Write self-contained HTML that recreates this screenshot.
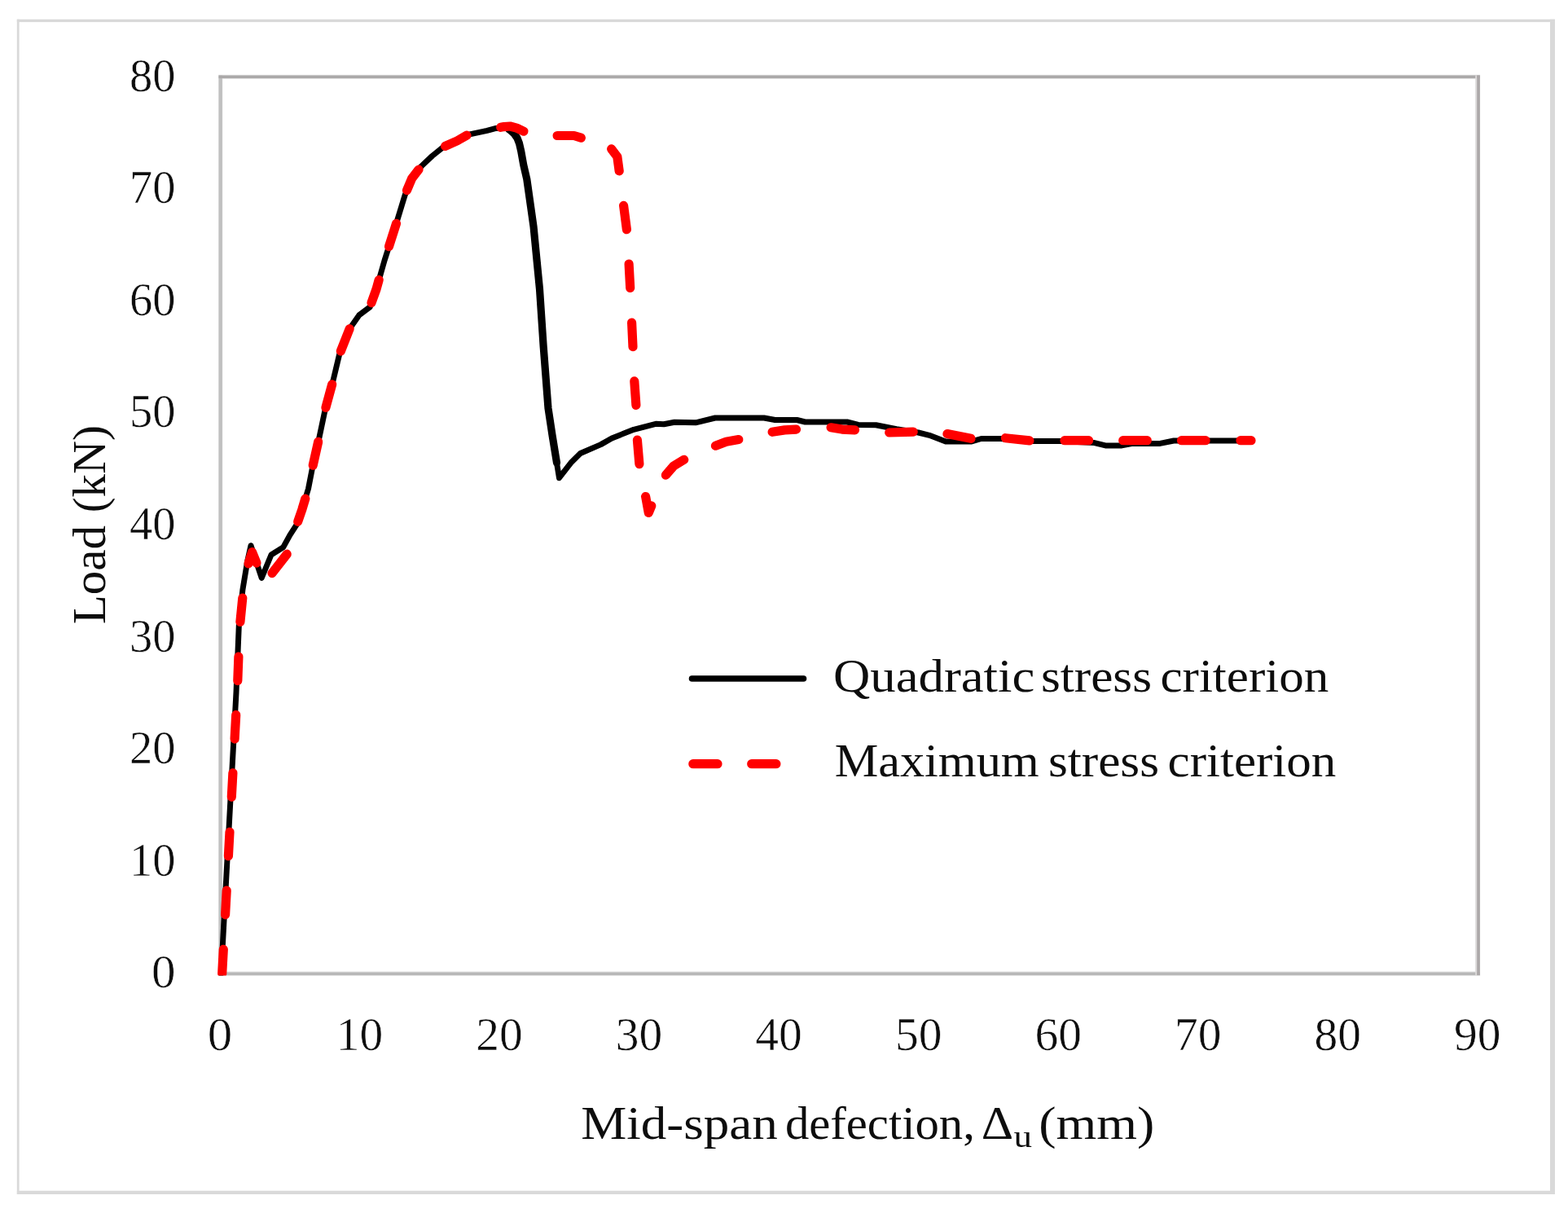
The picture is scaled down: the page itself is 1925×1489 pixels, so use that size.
<!DOCTYPE html>
<html lang="en">
<head>
<meta charset="utf-8">
<title>Load vs mid-span deflection</title>
<style>
html,body{margin:0;padding:0;background:#fff;}
body{width:1925px;height:1489px;overflow:hidden;}
svg{display:block;}
text{font-family:"Liberation Serif","DejaVu Serif",serif;fill:#111;}
</style>
</head>
<body>
<svg width="1925" height="1489" viewBox="0 0 1925 1489">
<defs>
<clipPath id="plot"><rect x="260" y="90" width="1560" height="1107.4"/></clipPath>
<filter id="soft" x="0" y="0" width="1925" height="1489" filterUnits="userSpaceOnUse"><feGaussianBlur stdDeviation="0.75"/></filter>
</defs>
<rect x="0" y="0" width="1925" height="1489" fill="#ffffff"/>
<g filter="url(#soft)">
<!-- outer chart frame -->
<g fill="#d9d9d9">
<rect x="20.8" y="23.7" width="1888.2" height="3.4"/>
<rect x="20.8" y="23.7" width="2.8" height="1442.3"/>
<rect x="1903" y="23.7" width="6" height="1442.3"/>
<rect x="20.8" y="1461.7" width="1888.2" height="4.3"/>
</g>
<!-- plot area frame -->
<g>
<rect x="268.2" y="91.7" width="1549" height="1106.4" fill="#e6e6e6"/>
<rect x="273.3" y="97" width="1538" height="1095.4" fill="#ffffff"/>
<rect x="268.5" y="92.6" width="4.4" height="1104.6" fill="#c0c0c0"/>
<rect x="268.5" y="1193.5" width="1548.3" height="3.6" fill="#b8b8b8"/>
<rect x="268.5" y="92.5" width="1548.3" height="3.6" fill="#aba9a9"/>
<rect x="1811.3" y="92.5" width="2" height="1104.6" fill="#dddbdb"/>
<rect x="1813.2" y="92.5" width="3.7" height="1104.6" fill="#aca8a9"/>
</g>
<!-- series 1: quadratic stress criterion -->
<polyline points="271.5,1195.0 290.0,850.0 293.3,768.0 297.9,724.0 303.7,689.0 308.0,669.7 321.2,709.5 333.0,681.0 347.8,671.7 355.9,656.8 364.6,643.4 370.9,625.2 378.5,600.0 383.7,573.3 392.1,536.4 398.8,504.5 408.9,467.5 416.5,435.6 429.1,403.7 440.8,386.9 454.2,376.9 462.0,355.0 472.0,319.9 485.4,277.9 497.2,239.3 505.6,219.1 517.3,204.0 530.7,191.4 544.2,180.5 561.0,173.0 574.4,165.4 597.9,160.4 609.0,157.4 621.5,156.5 627.0,160.3 631.5,164.5 635.0,169.5 637.5,176.0 639.7,185.5 642.7,202.3 646.8,220.0 655.0,277.9 662.5,355.0 667.2,425.6 673.0,501.1 678.1,534.7 686.5,586.7 700.7,568.3 712.5,556.5 737.7,545.6 751.1,538.0 778.0,527.3 805.0,520.3 815.0,520.8 828.0,518.2 854.0,518.8 878.0,513.0 938.0,513.0 951.5,515.5 978.4,515.5 988.5,518.0 1040.0,518.0 1053.6,521.5 1075.4,521.7 1100.6,526.8 1127.5,531.0 1140.9,534.3 1161.0,541.9 1192.9,541.9 1204.7,538.5 1228.2,538.5 1268.5,541.5 1302.0,541.5 1343.7,543.6 1357.1,546.9 1377.2,546.9 1390.7,544.4 1424.2,544.4 1441.0,541.0 1536.0,541.0" fill="none" stroke="#000000" stroke-width="7.0" stroke-linejoin="round" stroke-linecap="round" clip-path="url(#plot)"/>
<polyline points="625.0,159.0 627.0,160.3 631.5,164.5 635.0,169.5 637.5,176.0 639.7,185.5 642.7,202.3 646.8,220.0 655.0,277.9 662.5,355.0 667.2,425.6 673.0,501.1 678.1,534.7 683.5,568.0" fill="none" stroke="#000000" stroke-width="9.2" stroke-linejoin="round" stroke-linecap="round"/>
<!-- series 2: maximum stress criterion (dashed) -->
<g fill="none" stroke="#ff0000" stroke-width="11.2" stroke-linejoin="round" stroke-linecap="round" clip-path="url(#plot)">
<polyline points="272.7,1195.0 274.3,1165.4"/>
<polyline points="276.6,1122.8 278.2,1093.2"/>
<polyline points="280.4,1050.9 282.0,1021.3"/>
<polyline points="284.3,978.3 285.9,948.8"/>
<polyline points="288.1,907.1 289.7,877.6"/>
<polyline points="291.8,835.6 292.9,806.1"/>
<polyline points="294.9,763.4 297.8,734.0"/>
<polyline points="305.0,691.9 309.5,677.6 315.0,691.1"/>
<polyline points="334.0,703.6 352.2,680.2"/>
<polyline points="365.7,640.3 370.9,625.2 374.8,612.2"/>
<polyline points="384.2,571.2 390.7,542.3"/>
<polyline points="399.9,500.4 407.7,471.8"/>
<polyline points="418.3,431.1 429.1,403.7 429.2,403.6"/>
<polyline points="456.0,371.7 462.0,355.0 465.2,343.6"/>
<polyline points="477.5,302.6 485.4,277.9 486.5,274.4"/>
<polyline points="499.5,233.7 505.6,219.1 514.0,208.2"/>
<polyline points="546.6,179.4 561.0,173.0 573.0,166.2"/>
<polyline points="614.7,156.3 618.7,155.6 626.2,155.0 634.3,157.1 643.0,161.2"/>
<polyline points="684.1,166.5 704.7,166.5 713.3,169.2"/>
<polyline points="750.6,182.9 757.8,192.3 760.2,209.9"/>
<polyline points="765.6,252.4 769.4,281.7"/>
<polyline points="772.1,324.0 773.7,353.5"/>
<polyline points="775.6,396.1 777.0,425.7"/>
<polyline points="778.8,467.9 780.9,497.4"/>
<polyline points="782.4,540.1 784.9,569.6"/>
<polyline points="792.6,609.5 792.9,611.0 796.3,629.5 799.8,620.9"/>
<polyline points="817.4,583.2 827.0,572.0 839.7,564.3"/>
<polyline points="878.4,547.2 891.5,542.2 906.8,539.5"/>
<polyline points="948.1,530.3 963.3,527.9 977.5,527.1"/>
<polyline points="1020.1,524.8 1033.8,527.1 1049.5,527.8"/>
<polyline points="1091.7,531.0 1121.2,530.1"/>
<polyline points="1162.9,532.6 1192.0,538.3"/>
<polyline points="1234.4,537.7 1263.9,540.9"/>
<polyline points="1307.0,540.7 1336.6,540.7"/>
<polyline points="1378.7,540.7 1408.3,540.7"/>
<polyline points="1450.5,540.7 1480.1,540.7"/>
<polyline points="1523.0,540.7 1536.0,540.7"/>
</g>
<!-- legend -->
<line x1="849.5" y1="833" x2="986.5" y2="833" stroke="#000000" stroke-width="7.6" stroke-linecap="round"/>
<line x1="850.8" y1="937.7" x2="960" y2="937.7" stroke="#ff0000" stroke-width="11.2" stroke-linecap="round" stroke-dasharray="30.2 41.7"/>
<g font-size="58" text-anchor="end" stroke="#ffffff" stroke-width="0.55">
<text x="215.6" y="1212.4" textLength="29.5" lengthAdjust="spacingAndGlyphs">0</text>
<text x="215.6" y="1074.8" textLength="56.5" lengthAdjust="spacingAndGlyphs">10</text>
<text x="215.6" y="937.2" textLength="56.5" lengthAdjust="spacingAndGlyphs">20</text>
<text x="215.6" y="799.6" textLength="56.5" lengthAdjust="spacingAndGlyphs">30</text>
<text x="215.6" y="662.0" textLength="56.5" lengthAdjust="spacingAndGlyphs">40</text>
<text x="215.6" y="524.3" textLength="56.5" lengthAdjust="spacingAndGlyphs">50</text>
<text x="215.6" y="386.7" textLength="56.5" lengthAdjust="spacingAndGlyphs">60</text>
<text x="215.6" y="249.1" textLength="56.5" lengthAdjust="spacingAndGlyphs">70</text>
<text x="215.6" y="111.5" textLength="56.5" lengthAdjust="spacingAndGlyphs">80</text>
</g>
<g font-size="58" text-anchor="middle" stroke="#ffffff" stroke-width="0.55">
<text x="270.1" y="1289.2" textLength="30.5" lengthAdjust="spacingAndGlyphs">0</text>
<text x="441.6" y="1289.2" textLength="57.5" lengthAdjust="spacingAndGlyphs">10</text>
<text x="613.1" y="1289.2" textLength="57.5" lengthAdjust="spacingAndGlyphs">20</text>
<text x="784.6" y="1289.2" textLength="57.5" lengthAdjust="spacingAndGlyphs">30</text>
<text x="956.1" y="1289.2" textLength="57.5" lengthAdjust="spacingAndGlyphs">40</text>
<text x="1127.7" y="1289.2" textLength="57.5" lengthAdjust="spacingAndGlyphs">50</text>
<text x="1299.2" y="1289.2" textLength="57.5" lengthAdjust="spacingAndGlyphs">60</text>
<text x="1470.7" y="1289.2" textLength="57.5" lengthAdjust="spacingAndGlyphs">70</text>
<text x="1642.2" y="1289.2" textLength="57.5" lengthAdjust="spacingAndGlyphs">80</text>
<text x="1813.7" y="1289.2" textLength="57.5" lengthAdjust="spacingAndGlyphs">90</text>
</g>
<!-- axis titles -->
<text font-size="56" y="1398.3"><tspan x="713.2" textLength="241.7" lengthAdjust="spacingAndGlyphs">Mid-span</tspan> <tspan x="963.9" textLength="233" lengthAdjust="spacingAndGlyphs">defection,</tspan> <tspan x="1204.8" textLength="39.4" lengthAdjust="spacingAndGlyphs">Δ</tspan><tspan x="1244.5" dy="9.5" font-size="38" textLength="22.5" lengthAdjust="spacingAndGlyphs">u</tspan> <tspan x="1275.3" dy="-9.5" textLength="142.1" lengthAdjust="spacingAndGlyphs">(mm)</tspan></text>
<text font-size="56" transform="translate(128.7 766.3) rotate(-90)"><tspan x="0" y="0" textLength="121.3" lengthAdjust="spacingAndGlyphs">Load</tspan> <tspan x="137" textLength="107.3" lengthAdjust="spacingAndGlyphs">(kN)</tspan></text>
<!-- legend labels -->
<text font-size="56" y="849"><tspan x="1023.1" textLength="247.2" lengthAdjust="spacingAndGlyphs">Quadratic</tspan> <tspan x="1277.9" textLength="136.1" lengthAdjust="spacingAndGlyphs">stress</tspan> <tspan x="1424.5" textLength="206.7" lengthAdjust="spacingAndGlyphs">criterion</tspan></text>
<text font-size="56" y="952.7"><tspan x="1024.7" textLength="251" lengthAdjust="spacingAndGlyphs">Maximum</tspan> <tspan x="1286.9" textLength="136.1" lengthAdjust="spacingAndGlyphs">stress</tspan> <tspan x="1433.6" textLength="206.7" lengthAdjust="spacingAndGlyphs">criterion</tspan></text>
</g>
</svg>
</body>
</html>
